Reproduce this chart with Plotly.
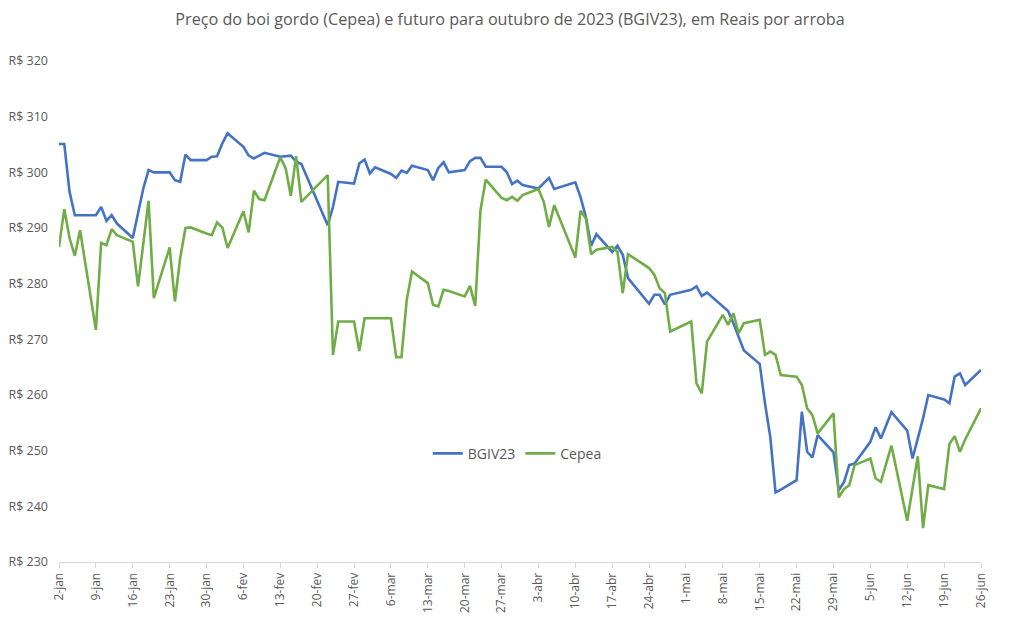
import pandas as pd
import plotly.graph_objects as go

# Trading dates (2023)
dates = (
    ["2023-01-%02d" % d for d in [2, 3, 4, 5, 6, 9, 10, 11, 12, 13, 16, 17, 18, 19, 20, 23, 24, 25, 26, 27, 30, 31]]
    + ["2023-02-%02d" % d for d in [1, 2, 3, 6, 7, 8, 9, 10, 13, 14, 15, 16, 17, 22, 23, 24, 27, 28]]
    + ["2023-03-%02d" % d for d in [1, 2, 3, 6, 7, 8, 9, 10, 13, 14, 15, 16, 17, 20, 21, 22, 23, 24, 27, 28, 29, 30, 31]]
    + ["2023-04-%02d" % d for d in [3, 4, 5, 6, 10, 11, 12, 13, 14, 17, 18, 19, 20, 24, 25, 26, 27, 28]]
    + ["2023-05-%02d" % d for d in [2, 3, 4, 5, 8, 9, 10, 11, 12, 15, 16, 17, 18, 19, 22, 23, 24, 25, 26, 29, 30, 31]]
    + ["2023-06-%02d" % d for d in [1, 2, 5, 6, 7, 9, 12, 13, 14, 15, 16, 19, 20, 21, 22, 23, 26]]
)

bgiv23 = [
    # jan
    305.1, 305.1, 296.5, 292.3, 292.3, 292.3, 293.8, 291.3, 292.3, 290.8, 288.2, 292.7, 297.1, 300.4, 300.0,
    300.0, 298.6, 298.3, 303.2, 302.2, 302.2, 302.8,
    # fev
    302.9, 305.2, 307.0, 304.6, 303.0, 302.5, 303.0, 303.5, 302.8, 302.9, 303.0, 301.9, 301.5, 290.5, 293.8,
    298.3, 298.0, 301.6,
    # mar
    302.3, 299.8, 300.9, 299.7, 299.0, 300.3, 299.9, 301.2, 300.4, 298.6, 300.8, 301.8, 300.0, 300.4, 302.0,
    302.6, 302.6, 301.0, 301.0, 300.0, 297.9, 298.5, 297.7,
    # abr
    297.1, 298.0, 299.0, 297.0, 298.2, 295.5, 292.0, 286.8, 288.9, 285.7, 286.8, 285.2, 281.0, 276.4, 278.0,
    278.0, 276.3, 278.0,
    # mai
    278.9, 279.5, 277.8, 278.4, 275.8, 275.1, 272.9, 270.5, 268.0, 265.6, 258.5, 252.5, 242.5, 243.0, 244.7,
    257.0, 249.8, 248.8, 252.8, 249.7, 242.9, 244.4,
    # jun
    247.4, 247.7, 251.6, 254.2, 252.2, 256.9, 253.6, 248.6, 252.0, 255.8, 260.0, 259.2, 258.5, 263.3, 263.9,
    261.8, 264.5,
]

cepea = [
    # jan
    286.6, 293.4, 288.2, 285.0, 289.6, 271.7, 287.3, 286.9, 289.8, 288.7, 287.5, 279.5, 287.2, 294.9, 277.4,
    286.5, 276.8, 284.6, 290.0, 290.1, 289.0, 288.7,
    # fev
    291.0, 290.1, 286.4, 293.0, 289.2, 296.7, 295.2, 295.0, 302.7, 300.8, 295.8, 302.9, 294.7, 299.5, 267.2,
    273.2, 273.2, 267.9,
    # mar
    273.8, 273.8, 273.8, 273.8, 266.8, 266.8, 277.1, 282.2, 280.1, 276.2, 275.9, 278.9, 278.7, 277.7, 279.6,
    276.0, 293.2, 298.7, 295.4, 295.0, 295.6, 294.9, 295.9,
    # abr
    297.0, 294.7, 290.2, 294.1, 284.7, 293.1, 291.7, 285.3, 286.1, 286.6, 285.7, 278.3, 285.3, 282.8, 281.6,
    279.2, 278.3, 271.4,
    # mai
    273.2, 262.1, 260.3, 269.6, 274.4, 272.6, 274.7, 271.1, 272.9, 273.5, 267.2, 267.8, 267.2, 263.6, 263.3,
    261.8, 257.6, 256.4, 253.1, 256.7, 241.6, 243.1,
    # jun
    243.8, 247.4, 248.6, 245.0, 244.4, 250.9, 237.4, 243.2, 249.0, 236.1, 243.8, 243.1, 251.2, 252.6, 249.8,
    252.0, 257.6,
]

x_tick_labels = ["2-jan", "9-jan", "16-jan", "23-jan", "30-jan", "6-fev", "13-fev", "20-fev", "27-fev",
                 "6-mar", "13-mar", "20-mar", "27-mar", "3-abr", "10-abr", "17-abr", "24-abr", "1-mai",
                 "8-mai", "15-mai", "22-mai", "29-mai", "5-jun", "12-jun", "19-jun", "26-jun"]
y_tick_values = [230, 240, 250, 260, 270, 280, 290, 300, 310, 320]
y_tick_labels = ["R$ %d" % v for v in y_tick_values]

x_tick_dates = pd.date_range("2023-01-02", periods=len(x_tick_labels), freq="7D")

FONT = "Open Sans"
GRAY = "#595959"

fig = go.Figure()
fig.add_trace(go.Scatter(x=dates, y=bgiv23, mode="lines", name="BGIV23",
                         line=dict(color="#4472C4", width=2.6)))
fig.add_trace(go.Scatter(x=dates, y=cepea, mode="lines", name="Cepea",
                         line=dict(color="#70AD47", width=2.6)))

fig.update_layout(
    width=1004, height=622,
    margin=dict(l=51, r=31, t=53, b=68),
    paper_bgcolor="white", plot_bgcolor="white",
    font=dict(family=FONT, color=GRAY),
    title=dict(text="Preço do boi gordo (Cepea) e futuro para outubro de 2023 (BGIV23), em Reais por arroba",
               x=0.5, xanchor="center", y=0.981, yanchor="middle",
               font=dict(family=FONT, size=16.2, color=GRAY)),
    showlegend=True,
    legend=dict(orientation="h", x=0.400, xanchor="left", y=0.216, yanchor="middle",
                bgcolor="rgba(0,0,0,0)", font=dict(family=FONT, size=14, color=GRAY),
                itemwidth=30),
)

fig.update_xaxes(
    type="date",
    range=["2023-01-02", "2023-06-26"],
    tickmode="array", tickvals=x_tick_dates, ticktext=x_tick_labels,
    tickangle=-90,
    tickfont=dict(family=FONT, size=12, color=GRAY),
    showgrid=False, zeroline=False,
    showline=True, linecolor="#d9d9d9", linewidth=1,
    ticks="outside", ticklen=5, tickcolor="#d9d9d9",
    automargin=False,
)
fig.update_yaxes(
    range=[230, 320],
    tickmode="array", tickvals=y_tick_values, ticktext=y_tick_labels,
    tickfont=dict(family=FONT, size=12.5, color=GRAY),
    showgrid=False, zeroline=False, showline=False,
    ticks="", ticklabelstandoff=10,
    automargin=False,
)

fig.write_html("out.html")
